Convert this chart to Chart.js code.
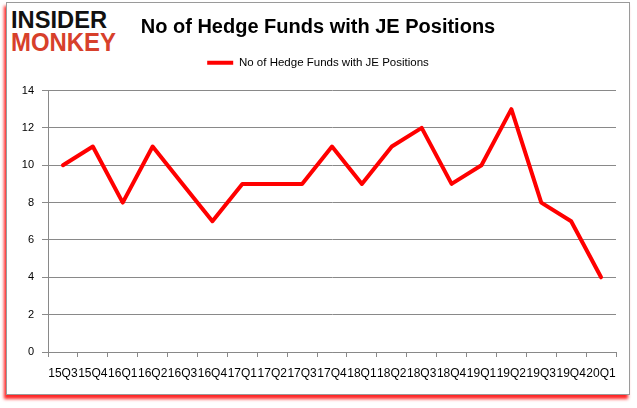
<!DOCTYPE html>
<html>
<head>
<meta charset="utf-8">
<script src="https://cdn.jsdelivr.net/npm/chart.js@4.4.1/dist/chart.umd.min.js"></script>
<style>
  html, body { margin: 0; padding: 0; background: #ffffff; }
  body { width: 637px; height: 408px; position: relative; overflow: hidden; }
  #frame { position: absolute; left: 6px; top: 2px; width: 624px; height: 393px; box-sizing: border-box;
           border: 1px solid #9a9a9a; background: #fff; box-shadow: -2px 4px 3px rgba(255,0,0,0.85); }
  #wrap { position: absolute; left: 0; top: 0; width: 637px; height: 408px; }
  .logo { position: absolute; left: 11px; font-family: "Liberation Sans", Arial, sans-serif; font-weight: bold;
          transform-origin: left top; white-space: nowrap; }
  #l1 { top: 9px; font-size: 23px; line-height: 23px; color: #111; transform: scaleX(1.03); }
  #l2 { top: 29px; font-size: 26px; line-height: 26px; color: #d7402b; transform: scaleX(0.92); }
</style>
</head>
<body>
<div id="frame"></div>
<div class="logo" id="l1">INSIDER</div>
<div class="logo" id="l2">MONKEY</div>
<div id="wrap"><canvas id="c" width="637" height="408"></canvas></div>
<script>
const categories = ["15Q3","15Q4","16Q1","16Q2","16Q3","16Q4","17Q1","17Q2","17Q3","17Q4","18Q1","18Q2","18Q3","18Q4","19Q1","19Q2","19Q3","19Q4","20Q1"];
const hedgeFunds = [10, 11, 8, 11, 9, 7, 9, 9, 9, 11, 9, 11, 12, 9, 10, 13, 8, 7, 4];
const seriesName = "No of Hedge Funds with JE Positions";
const chartTitle = "No of Hedge Funds with JE Positions";
const yTicks = [0, 2, 4, 6, 8, 10, 12, 14];

const FONT = '"Liberation Sans", Arial, sans-serif';
const GRID = '#898989';

new Chart(document.getElementById('c'), {
  type: 'line',
  data: {
    labels: categories,
    datasets: [{
      label: seriesName,
      data: hedgeFunds,
      borderColor: '#ff0000',
      backgroundColor: '#ff0000',
      borderWidth: 4,
      tension: 0,
      pointRadius: 0,
      pointHoverRadius: 0,
      borderJoinStyle: 'round',
      borderCapStyle: 'round',
      fill: false
    }]
  },
  options: {
    responsive: false,
    animation: false,
    events: [],
    layout: { padding: { top: 5, left: 20, right: 21, bottom: 26 } },
    plugins: {
      title: {
        display: true,
        text: chartTitle,
        color: '#000',
        font: { family: FONT, size: 20, weight: 'bold' },
        padding: { top: 10, bottom: 8 }
      },
      subtitle: {
        display: true,
        text: '',
        weight: 500,
        font: { size: 10 },
        padding: 0
      },
      legend: {
        display: true,
        position: 'top',
        labels: {
          color: '#000',
          font: { family: FONT, size: 11.5 },
          usePointStyle: true,
          pointStyle: 'line',
          pointStyleWidth: 26,
          padding: 10
        }
      },
      tooltip: { enabled: false }
    },
    scales: {
      x: {
        type: 'category',
        offset: true,
        afterFit: (s) => { s.height = 30; },
        grid: { display: true, drawOnChartArea: false, drawTicks: true, tickLength: 5, offset: true, color: GRID },
        border: { display: true, color: GRID, width: 1 },
        ticks: { color: '#000', font: { family: FONT, size: 12 }, autoSkip: false, maxRotation: 0, minRotation: 0, padding: 9 }
      },
      y: {
        min: 0,
        max: 14,
        afterFit: (s) => { s.width = 28; },
        afterBuildTicks: (s) => { s.ticks = yTicks.map(v => ({ value: v })); },
        grid: { color: GRID, drawTicks: true, tickLength: 6 },
        border: { display: true, color: GRID, width: 1 },
        ticks: { color: '#000', font: { family: FONT, size: 11 }, padding: 8 }
      }
    }
  }
});
</script>
</body>
</html>
